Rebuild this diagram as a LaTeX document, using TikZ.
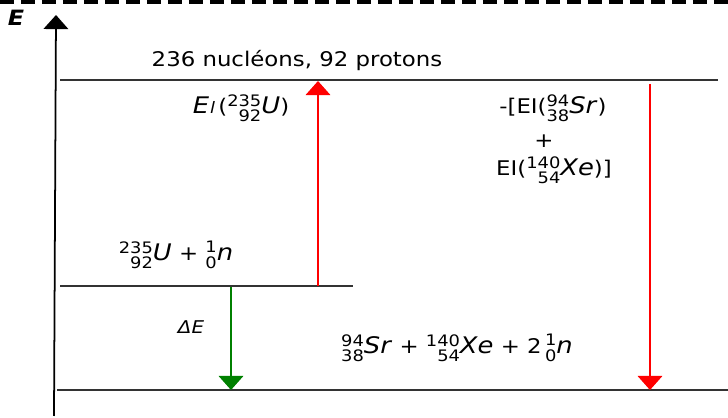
\documentclass[tikz,border=0pt]{standalone}
\usepackage{fontspec}
\setmainfont[FakeStretch=1.13]{DejaVu Sans}
\usetikzlibrary{arrows.meta}
\newcommand{\isot}[3]{{\small\renewcommand{\arraystretch}{0.68}\begin{tabular}[c]{@{}r@{}}#1\\#2\end{tabular}}{\fontsize{13}{15}\selectfont\textit{#3}}}
\begin{document}
\begin{tikzpicture}[x=0.02cm,y=-0.02cm,
    level/.style={line width=0.9pt,black!80},
    lbl/.style={font=\fontsize{11.5}{14}\selectfont,inner sep=0pt},
    tip/.style={-{Triangle[width=14pt,length=8pt]}}]
  \useasboundingbox (0,0) rectangle (728,418);
  \draw[line width=2.3pt,dash pattern=on 0.28cm off 0.14cm] (0,2) -- (728,2);
  % axis
  \draw[line width=1pt,tip] (54,416) -- (56,15);
  \node[lbl,font=\bfseries\itshape\large] (E) at (16,18) {E};
  % levels
  \draw[level] (60,80) -- (718,80);
  \draw[level] (60,286) -- (353,286);
  \draw[level] (57,390) -- (728,390);
  \coordinate (rUp0) at (318,286);
  \coordinate (rUp1) at (318,81);
  \coordinate (rDn0) at (650,84);
  \coordinate (rDn1) at (650,390);
  \coordinate (gDn0) at (231,287);
  \coordinate (gDn1) at (231,390);
  \draw[red,line width=0.9pt,tip] (rUp0) -- (rUp1);
  \draw[red,line width=0.9pt,tip] (rDn0) -- (rDn1);
  \draw[green!50!black,line width=0.9pt,tip] (gDn0) -- (gDn1);
  % labels
  \node[lbl] (top) at (297,61) {236 nucléons, 92 protons};
  \node[lbl] (eu) at (241,110) {{\fontsize{13}{15}\selectfont\textit{E\kern0.5pt{\small l}}}\,(\isot{235}{92}{U})};
  \node[lbl] (esr) at (553,110) {-[EI(\isot{94}{38}{Sr})};
  \node[lbl] (plus) at (544,141) {+};
  \node[lbl] (exe) at (554,172) {EI(\isot{140}{54}{Xe})]};
  \node[lbl] (react) at (176,257) {\isot{235}{92}{U} + \isot{1}{0}{n}};
  \node[lbl,font=\itshape] (dE) at (191,327) {ΔE};
  \node[lbl] (prod) at (457,350) {\isot{94}{38}{Sr} + \isot{140}{54}{Xe} + 2\,\isot{1}{0}{n}};
\end{tikzpicture}
\end{document}
